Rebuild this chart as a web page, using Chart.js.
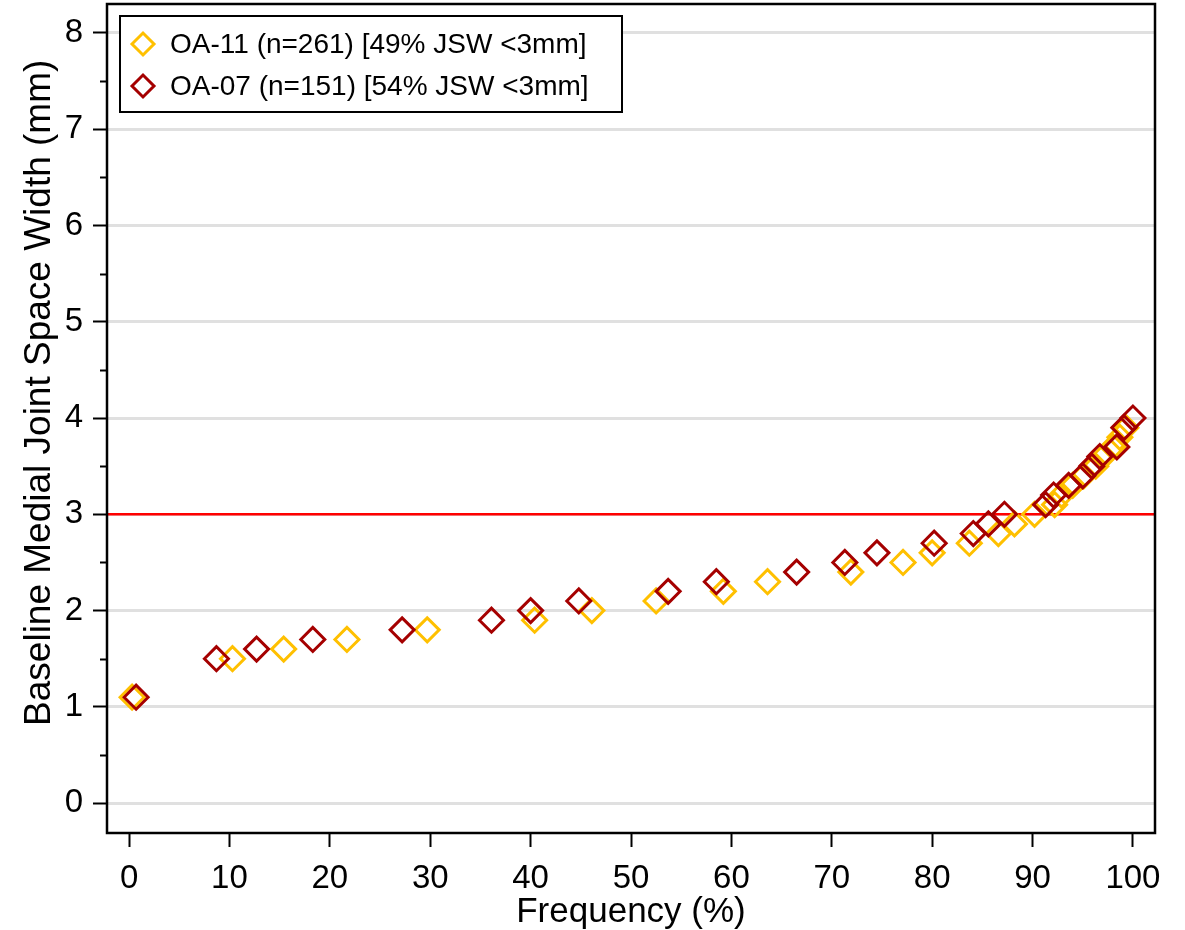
<!DOCTYPE html>
<html>
<head>
<meta charset="utf-8">
<script src="https://cdn.jsdelivr.net/npm/chart.js@4"></script>
<style>
  html, body { margin: 0; padding: 0; background: #fff; }
  #wrap { width: 1185px; height: 930px; }
</style>
</head>
<body>
<div id="wrap"><canvas id="jswChart" width="1185" height="930"></canvas></div>
<script>
// OA-11 cohort
var oa11Label = "OA-11 (n=261) [49% JSW <3mm]";
var oa11Freq = [0.3, 10.3, 15.4, 21.7, 29.7, 40.4, 46.1, 52.5, 59.2, 63.6, 71.9, 77.1, 80.0, 83.7, 86.6, 88.2,
                90.2, 92.2, 92.9, 94.0, 95.1, 96.3, 97.1, 98.0, 98.7, 99.3];
var oa11Jsw  = [1.1, 1.5, 1.6, 1.7, 1.8, 1.9, 2.0, 2.1, 2.2, 2.3, 2.4, 2.5, 2.6, 2.7, 2.8, 2.9,
                3.0, 3.1, 3.2, 3.3, 3.4, 3.5, 3.6, 3.7, 3.8, 3.9];

// OA-07 cohort
var oa07Label = "OA-07 (n=151) [54% JSW <3mm]";
var oa07Freq = [0.7, 8.7, 12.7, 18.3, 27.2, 36.1, 40.0, 44.8, 53.7, 58.5, 66.5, 71.3, 74.5, 80.2, 84.1, 85.6,
                87.2, 91.3, 92.1, 93.6, 95.0, 95.9, 96.7, 98.4, 99.1, 100.0];
var oa07Jsw  = [1.1, 1.5, 1.6, 1.7, 1.8, 1.9, 2.0, 2.1, 2.2, 2.3, 2.4, 2.5, 2.6, 2.7, 2.8, 2.9,
                3.0, 3.1, 3.2, 3.3, 3.4, 3.5, 3.6, 3.7, 3.9, 4.0];

var xTicks = [0, 10, 20, 30, 40, 50, 60, 70, 80, 90, 100];
var yTicks = [0, 1, 2, 3, 4, 5, 6, 7, 8];
var cutoff = 3;

function toPoints(xs, ys) {
    return xs.map(function(x, i) { return { x: x, y: ys[i] }; });
}

var FONT = "'Liberation Sans', Arial, Helvetica, sans-serif";

function noPad(scale) {
    scale.paddingTop = 0;
    scale.paddingBottom = 0;
    scale.paddingLeft = 0;
    scale.paddingRight = 0;
}

// frame, 3mm line, minor ticks and the boxed legend
var decorPlugin = {
    id: "decor",
    beforeDatasetsDraw: function(chart) {
        var ctx = chart.ctx, a = chart.chartArea;
        var ys = chart.scales.y;
        ctx.save();
        // red cutoff line
        var yc = ys.getPixelForValue(cutoff);
        ctx.strokeStyle = "#ff0000";
        ctx.lineWidth = 2.5;
        ctx.beginPath();
        ctx.moveTo(a.left, yc);
        ctx.lineTo(a.right, yc);
        ctx.stroke();
        // minor ticks
        ctx.strokeStyle = "#000";
        ctx.lineWidth = 2;
        for (var v = 0.5; v < 8.3; v += 1) {
            var yp = Math.round(ys.getPixelForValue(v)) + 0.5;
            ctx.beginPath();
            ctx.moveTo(a.left - 7, yp);
            ctx.lineTo(a.left, yp);
            ctx.stroke();
        }
        // frame
        ctx.lineWidth = 2.5;
        ctx.strokeRect(a.left, a.top, a.right - a.left, a.bottom - a.top);
        ctx.restore();
    },
    afterDraw: function(chart) {
        var ctx = chart.ctx;
        var bx = 120, by = 16, bw = 502, bh = 96;
        ctx.save();
        ctx.fillStyle = "#fff";
        ctx.fillRect(bx, by, bw, bh);
        ctx.strokeStyle = "#000";
        ctx.lineWidth = 2;
        ctx.strokeRect(bx, by, bw, bh);
        var order = [1, 0];
        order.forEach(function(idx, row) {
            var ds = chart.data.datasets[idx];
            var cy = by + 28 + row * 42;
            ctx.strokeStyle = ds.borderColor;
            ctx.fillStyle = "rgba(0,0,0,0)";
            ctx.lineWidth = 3;
            Chart.helpers.drawPoint(ctx, { pointStyle: "rectRot", radius: 11, borderWidth: 3 }, 143, cy);
            ctx.fillStyle = "#000";
            ctx.font = "28px " + FONT;
            ctx.textBaseline = "middle";
            ctx.textAlign = "left";
            ctx.fillText(ds.label, 170, cy + 1);
        });
        ctx.restore();
    }
};

var ctx = document.getElementById("jswChart").getContext("2d");
new Chart(ctx, {
    type: "scatter",
    data: {
        datasets: [{
            label: oa07Label,
            data: toPoints(oa07Freq, oa07Jsw),
            borderColor: "#a50000",
            backgroundColor: "rgba(0,0,0,0)",
            pointStyle: "rectRot",
            pointRadius: 12,
            pointBorderWidth: 3,
            order: 0
        }, {
            label: oa11Label,
            data: toPoints(oa11Freq, oa11Jsw),
            borderColor: "#ffc000",
            backgroundColor: "rgba(0,0,0,0)",
            pointStyle: "rectRot",
            pointRadius: 12,
            pointBorderWidth: 3,
            order: 1
        }]
    },
    options: {
        responsive: false,
        animation: false,
        layout: { autoPadding: false, padding: { top: 4, right: 30, left: 0, bottom: 0 } },
        plugins: {
            legend: { display: false },
            tooltip: { enabled: false }
        },
        scales: {
            x: {
                type: "linear",
                min: -2.2,
                max: 102.2,
                afterBuildTicks: function(scale) {
                    scale.ticks = xTicks.map(function(v) { return { value: v }; });
                },
                afterFit: function(scale) {
                    scale.height = 97;
                    noPad(scale);
                },
                border: { display: false },
                grid: { drawOnChartArea: false, drawTicks: true, tickLength: 14, tickColor: "#000", tickWidth: 2 },
                ticks: { color: "#000", font: { family: FONT, size: 33 }, padding: 12, maxRotation: 0 },
                title: { display: true, text: "Frequency (%)", color: "#000", font: { family: FONT, size: 35 }, padding: { top: -3, bottom: -3 } }
            },
            y: {
                type: "linear",
                min: -0.31,
                max: 8.3,
                afterBuildTicks: function(scale) {
                    scale.ticks = yTicks.map(function(v) { return { value: v }; });
                },
                afterFit: function(scale) {
                    scale.width = 107;
                    noPad(scale);
                },
                border: { display: false },
                grid: { color: "#e0e0e0", lineWidth: 3, drawTicks: true, tickLength: 14, tickColor: "#000", tickWidth: 2 },
                ticks: { color: "#000", font: { family: FONT, size: 33 }, padding: 10 },
                title: { display: true, text: "     Baseline Medial Joint Space Width (mm)", color: "#000", font: { family: FONT, size: 37 }, padding: { top: 18, bottom: 0 } }
            }
        }
    },
    plugins: [decorPlugin]
});
</script>
</body>
</html>
